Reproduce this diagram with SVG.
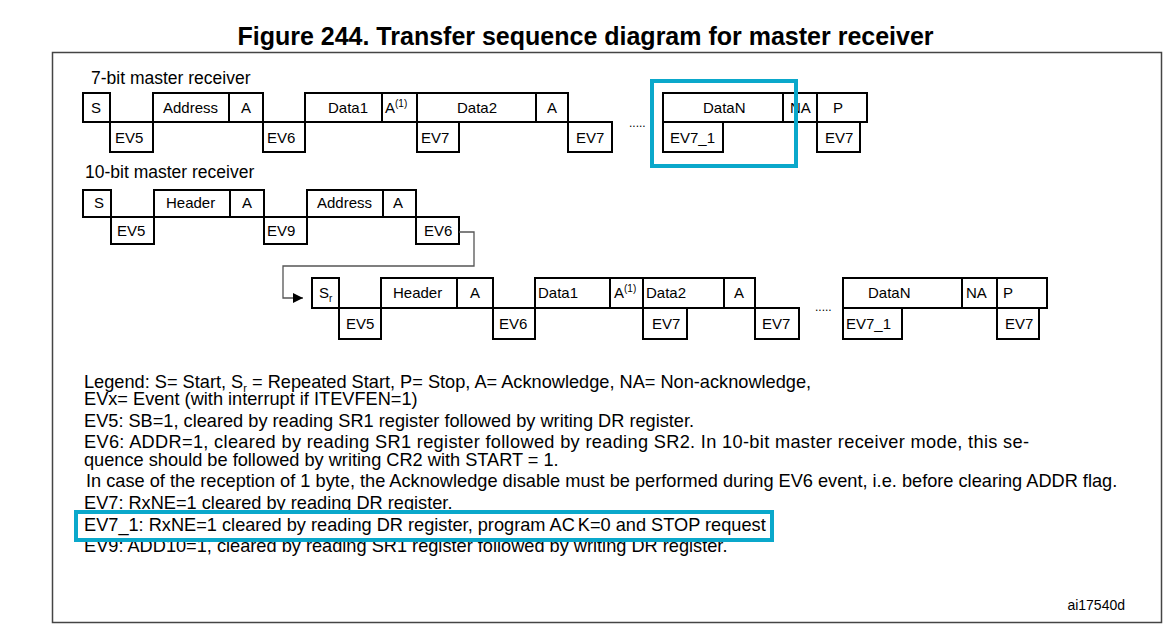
<svg xmlns="http://www.w3.org/2000/svg" width="1171" height="627" viewBox="0 0 1171 627">
<style>
text{font-family:"Liberation Sans",Arial,sans-serif;fill:#000}
.b{fill:#fff;stroke:#000;stroke-width:2}
.l{font-size:15px}
.h{font-size:17.5px}
.g{font-size:18.2px}
.sup{font-size:10px}
.dots{font-size:12px}
.hl{fill:none;stroke:#0aa8cb;stroke-width:4}
.frame{fill:#fff;stroke:#444;stroke-width:1.5}
</style>
<defs>
<marker id="arr" viewBox="0 0 10 10" refX="10" refY="5" markerWidth="10" markerHeight="10" markerUnits="userSpaceOnUse" orient="auto">
<path d="M0,0L10,5L0,10z" fill="#000"/>
</marker>
</defs>
<rect width="1171" height="627" fill="#fff"/>
<text x="585.5" y="45" text-anchor="middle" style="font-size:25px;font-weight:bold">Figure 244. Transfer sequence diagram for master receiver</text>
<rect class="frame" x="52.5" y="52.5" width="1109" height="570"/>

<text class="h" x="91" y="84">7-bit master receiver</text>
<text class="h" x="85" y="178">10-bit master receiver</text>

<!-- Row 1: 7-bit -->
<g id="r1-S"><rect class="b" x="83" y="93" width="27" height="29"/><text class="l" x="91" y="113">S</text></g>
<g id="r1-EV5"><rect class="b" x="110" y="122" width="43" height="30"/><text class="l" x="115" y="143">EV5</text></g>
<g id="r1-Address"><rect class="b" x="153" y="93" width="76" height="29"/><text class="l" x="163" y="113">Address</text></g>
<g id="r1-A1"><rect class="b" x="229" y="93" width="34" height="29"/><text class="l" x="241" y="113">A</text></g>
<g id="r1-EV6"><rect class="b" x="263" y="122" width="42" height="30"/><text class="l" x="267" y="143">EV6</text></g>
<g id="r1-Data1"><rect class="b" x="305" y="93" width="77" height="29"/><text class="l" x="328" y="113">Data1</text></g>
<g id="r1-A2"><rect class="b" x="382" y="93" width="35" height="29"/><text class="l" x="385" y="113">A<tspan class="sup" dy="-6">(1)</tspan></text></g>
<g id="r1-Data2"><rect class="b" x="417" y="93" width="119" height="29"/><text class="l" x="457" y="113">Data2</text></g>
<g id="r1-A3"><rect class="b" x="536" y="93" width="32" height="29"/><text class="l" x="547" y="113">A</text></g>
<g id="r1-EV7a"><rect class="b" x="417" y="122" width="42" height="30"/><text class="l" x="421" y="143">EV7</text></g>
<g id="r1-EV7b"><rect class="b" x="568" y="122" width="44" height="30"/><text class="l" x="576" y="143">EV7</text></g>
<text class="dots" x="629" y="127">.....</text>
<g id="r1-DataN"><rect class="b" x="663" y="93" width="120" height="29"/><text class="l" x="703" y="113">DataN</text></g>
<g id="r1-NA"><rect class="b" x="783" y="93" width="34" height="29"/><text class="l" x="790" y="113">NA</text></g>
<g id="r1-P"><rect class="b" x="817" y="93" width="50" height="29"/><text class="l" x="833" y="113">P</text></g>
<g id="r1-EV7_1"><rect class="b" x="663" y="122" width="60" height="30"/><text class="l" x="670" y="143">EV7_1</text></g>
<g id="r1-EV7c"><rect class="b" x="817" y="122" width="43" height="30"/><text class="l" x="825" y="143">EV7</text></g>

<!-- Row 2: 10-bit -->
<g id="r2-S"><rect class="b" x="83" y="190" width="28" height="27"/><text class="l" x="94" y="208">S</text></g>
<g id="r2-EV5"><rect class="b" x="111" y="217" width="43" height="27"/><text class="l" x="117" y="236">EV5</text></g>
<g id="r2-Header"><rect class="b" x="154" y="190" width="76" height="27"/><text class="l" x="166" y="208">Header</text></g>
<g id="r2-A1"><rect class="b" x="230" y="190" width="34" height="27"/><text class="l" x="242" y="208">A</text></g>
<g id="r2-EV9"><rect class="b" x="264" y="217" width="43" height="27"/><text class="l" x="267" y="236">EV9</text></g>
<g id="r2-Address"><rect class="b" x="307" y="190" width="76" height="27"/><text class="l" x="317" y="208">Address</text></g>
<g id="r2-A2"><rect class="b" x="383" y="190" width="33" height="27"/><text class="l" x="393" y="208">A</text></g>
<g id="r2-EV6"><rect class="b" x="416" y="217" width="43" height="27"/><text class="l" x="424" y="236">EV6</text></g>

<!-- Row 3: 10-bit continued -->
<g id="r3-Sr"><rect class="b" x="312" y="278" width="27" height="30"/><text class="l" x="319" y="298">S<tspan class="sup" dy="4">r</tspan></text></g>
<g id="r3-EV5"><rect class="b" x="339" y="308" width="42" height="31"/><text class="l" x="346" y="329">EV5</text></g>
<g id="r3-Header"><rect class="b" x="381" y="278" width="76" height="30"/><text class="l" x="393" y="298">Header</text></g>
<g id="r3-A1"><rect class="b" x="457" y="278" width="36" height="30"/><text class="l" x="470" y="298">A</text></g>
<g id="r3-EV6"><rect class="b" x="493" y="308" width="42" height="31"/><text class="l" x="499" y="329">EV6</text></g>
<g id="r3-Data1"><rect class="b" x="535" y="278" width="75" height="30"/><text class="l" x="538" y="298">Data1</text></g>
<g id="r3-A2"><rect class="b" x="610" y="278" width="33" height="30"/><text class="l" x="614" y="298">A<tspan class="sup" dy="-6">(1)</tspan></text></g>
<g id="r3-Data2"><rect class="b" x="643" y="278" width="81" height="30"/><text class="l" x="646" y="298">Data2</text></g>
<g id="r3-A3"><rect class="b" x="724" y="278" width="31" height="30"/><text class="l" x="734" y="298">A</text></g>
<g id="r3-EV7a"><rect class="b" x="643" y="308" width="44" height="31"/><text class="l" x="652" y="329">EV7</text></g>
<g id="r3-EV7b"><rect class="b" x="755" y="308" width="44" height="31"/><text class="l" x="762" y="329">EV7</text></g>
<text class="dots" x="815" y="311">.....</text>
<g id="r3-DataN"><rect class="b" x="843" y="278" width="119" height="30"/><text class="l" x="868" y="298">DataN</text></g>
<g id="r3-NA"><rect class="b" x="962" y="278" width="35" height="30"/><text class="l" x="966" y="298">NA</text></g>
<g id="r3-P"><rect class="b" x="997" y="278" width="50" height="30"/><text class="l" x="1003" y="298">P</text></g>
<g id="r3-EV7_1"><rect class="b" x="843" y="308" width="59" height="31"/><text class="l" x="846" y="329">EV7_1</text></g>
<g id="r3-EV7c"><rect class="b" x="997" y="308" width="42" height="31"/><text class="l" x="1005" y="329">EV7</text></g>

<g id="connectors">
<path d="M459,232H474V266H283V298H303" fill="none" stroke="#555" stroke-width="1.3" marker-end="url(#arr)"/>
</g>

<g id="highlight-top"><rect class="hl" x="652" y="81" width="144" height="85"/></g>

<g id="legend">
<text class="g" x="84" y="388">Legend: S= Start, S<tspan font-size="11px" baseline-shift="-4">r</tspan> = Repeated Start, P= Stop, A= Acknowledge, NA= Non-acknowledge,</text>
<text class="g" x="84" y="405">EVx= Event (with interrupt if ITEVFEN=1)</text>
<text class="g" x="84" y="427">EV5: SB=1, cleared by reading SR1 register followed by writing DR register.</text>
<text class="g" x="84" y="448" textLength="945" lengthAdjust="spacing">EV6: ADDR=1, cleared by reading SR1 register followed by reading SR2. In 10-bit master receiver mode, this se-</text>
<text class="g" x="84" y="466">quence should be followed by writing CR2 with START = 1.</text>
<text class="g" x="86" y="487">In case of the reception of 1 byte, the Acknowledge disable must be performed during EV6 event, i.e. before clearing ADDR flag.</text>
<text class="g" x="84" y="509">EV7: RxNE=1 cleared by reading DR register.</text>
<text class="g" x="84" y="552">EV9: ADD10=1, cleared by reading SR1 register followed by writing DR register.</text>
</g>
<g id="highlight-legend">
<rect x="76" y="512" width="696" height="28" fill="#fff" stroke="#0aa8cb" stroke-width="4"/>
<text class="g" x="84" y="531">EV7_1: RxNE=1 cleared by reading DR register, program AC<tspan dx="3">K=0 and STOP request</tspan></text>
</g>
<text x="1125" y="610" style="font-size:14px" text-anchor="end">ai17540d</text>
</svg>
